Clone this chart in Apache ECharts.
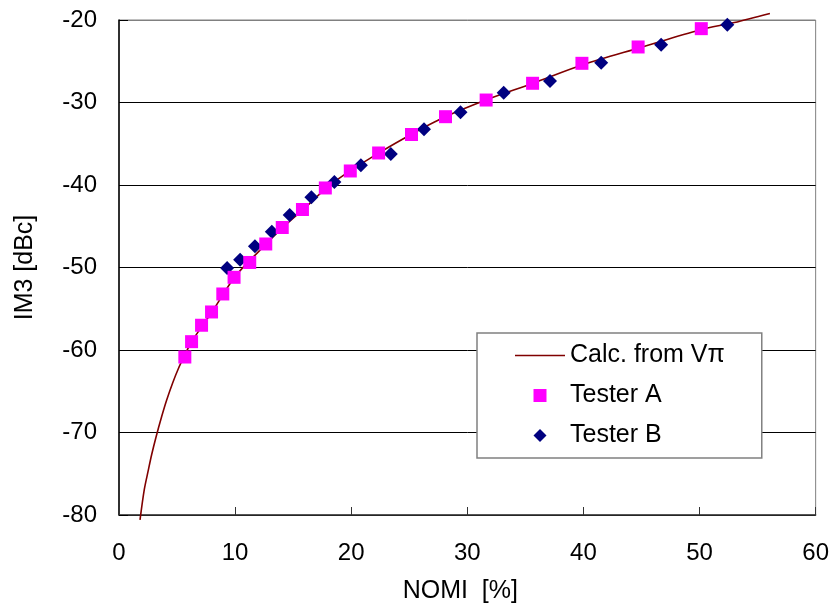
<!DOCTYPE html>
<html>
<head>
<meta charset="utf-8">
<script src="https://cdn.jsdelivr.net/npm/echarts@6/dist/echarts.min.js"></script>
<style>
  html, body { margin: 0; padding: 0; background: #fff; }
  #main { width: 832px; height: 613px; }
</style>
</head>
<body>
<div id="main"></div>
<script>
// curve (NOMI %, IM3 dBc)
var calcX = [1.81, 2.18, 2.52, 2.81, 3.18, 3.67, 4.10, 4.62, 5.10, 5.67, 6.25, 8.0, 10.0, 12.0, 14.0, 16.0, 18.0, 20.0, 22.4, 25.0, 28.0, 31.6, 35.6, 40.0, 45.0, 50.0, 53.0, 56.06];
var calcY = [-80.6, -76.9, -74.6, -72.7, -70.6, -68.1, -66.1, -64.0, -62.3, -60.6, -59.0, -55.4, -51.1, -48.1, -45.3, -42.8, -40.2, -38.2, -36.1, -34.0, -31.8, -29.7, -27.7, -25.4, -23.3, -21.2, -20.3, -19.2];

var testerAX = [5.67, 6.25, 7.11, 7.97, 8.94, 9.91, 11.26, 12.64, 14.06, 15.8, 17.77, 19.92, 22.36, 25.19, 28.12, 31.62, 35.62, 39.87, 44.71, 50.15];
var testerAY = [-60.85, -58.99, -57.0, -55.39, -53.21, -51.19, -49.39, -47.15, -45.15, -42.97, -40.36, -38.30, -36.12, -33.88, -31.72, -29.7, -27.67, -25.25, -23.27, -21.05];

var testerBX = [9.31, 10.43, 11.71, 13.16, 14.7, 16.57, 18.55, 20.83, 23.41, 26.27, 29.41, 33.13, 37.12, 41.53, 46.69, 52.39];
var testerBY = [-50.06, -49.05, -47.43, -45.67, -43.64, -41.49, -39.64, -37.61, -36.24, -33.24, -31.19, -28.81, -27.39, -25.18, -22.99, -20.57];

function pairs(xs, ys) {
  return xs.map(function (x, i) { return [x, ys[i]]; });
}

var font = "'Liberation Sans', Arial, sans-serif";
var chart = echarts.init(document.getElementById('main'), null, { renderer: 'canvas' });

var option = {
  backgroundColor: '#fff',
  animation: false,
  grid: {
    left: 119, right: 15, top: 20, bottom: 98,
    show: true, borderColor: '#808080', borderWidth: 1, backgroundColor: 'transparent'
  },
  xAxis: {
    type: 'value', min: 0, max: 60, interval: 10,
    name: 'NOMI  [%]', nameLocation: 'middle', nameGap: 64,
    nameTextStyle: { fontFamily: font, fontSize: 25, color: '#000', padding: [0, 14, 0, 0] },
    axisLine: { show: true, lineStyle: { color: '#333', width: 1.5 } },
    axisTick: { show: true, inside: true, length: 8, lineStyle: { color: '#333' } },
    axisLabel: { fontFamily: font, fontSize: 24, color: '#000', margin: 26 },
    splitLine: { show: false }
  },
  yAxis: {
    type: 'value', min: -80, max: -20, interval: 10,
    name: 'IM3 [dBc]', nameLocation: 'middle', nameGap: 81, nameRotate: 90,
    nameTextStyle: { fontFamily: font, fontSize: 25, color: '#000' },
    axisLine: { show: true, lineStyle: { color: '#000', width: 1.5 } },
    axisTick: { show: true, inside: true, length: 9, lineStyle: { color: '#000' } },
    axisLabel: { fontFamily: font, fontSize: 24, color: '#000', margin: 22 },
    splitLine: { show: true, lineStyle: { color: ['#000', '#000', '#000', '#000', '#000', '#000', '#808080'], width: 1 } }
  },
  legend: {
    orient: 'vertical', left: 477, top: 333,
    padding: [10, 37, 10, 38], itemGap: 15,
    itemWidth: 50, itemHeight: 13,
    symbolKeepAspect: true,
    backgroundColor: '#fff', borderColor: '#808080', borderWidth: 1.5,
    textStyle: { fontFamily: font, fontSize: 25, color: '#000' },
    data: [
      { name: 'Calc. from Vπ', icon: 'path://M0 0H50V1.6H0Z' },
      { name: 'Tester A', icon: 'path://M0 0H10V10H0Z' },
      { name: 'Tester B', icon: 'path://M5 0L10 5L5 10L0 5Z' }
    ]
  },
  series: [
    {
      name: 'Calc. from Vπ', type: 'line', data: pairs(calcX, calcY),
      showSymbol: false, symbol: 'none', smooth: 0.3, clip: false,
      lineStyle: { color: '#800000', width: 1.6 }, itemStyle: { color: '#800000' }, z: 2
    },
    {
      name: 'Tester A', type: 'scatter', data: pairs(testerAX, testerAY),
      symbol: 'rect', symbolSize: 13, itemStyle: { color: '#ff00ff', opacity: 1 }, z: 4
    },
    {
      name: 'Tester B', type: 'scatter', data: pairs(testerBX, testerBY),
      symbol: 'diamond', symbolSize: 14, itemStyle: { color: '#000080', opacity: 1 }, z: 3
    }
  ]
};
chart.setOption(option);
</script>
</body>
</html>
